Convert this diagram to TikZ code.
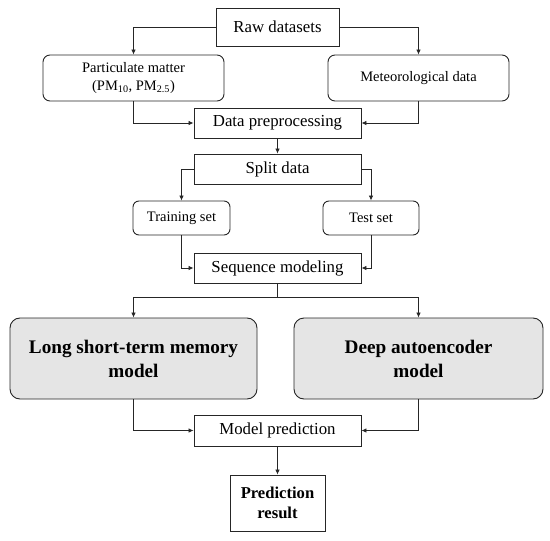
\documentclass[tikz,border=0pt]{standalone}
\usepackage{fontspec}
\setmainfont{Liberation Serif}
\usetikzlibrary{arrows.meta}
\tikzset{
  box/.style={draw=black!85, line width=0.9pt, inner sep=0pt, align=center, font=\fontsize{16.8}{20}\selectfont},
  sbox/.style={box, rounded corners=7pt, font=\fontsize{14.5}{18}\selectfont},
  bigbox/.style={box, rounded corners=10pt, fill=black!10, font=\bfseries\fontsize{19.2}{24}\selectfont},
  arr/.style={draw=black!85, line width=0.8pt, -{Latex[length=5pt,width=4.5pt]}},
  ln/.style={draw=black!85, line width=0.8pt}
}
\begin{document}
\begin{tikzpicture}[x=1pt,y=-1pt]
\useasboundingbox (0,0) rectangle (550,541);
\node[box, minimum width=123pt, minimum height=38pt] (raw) at (277.5,27) {Raw datasets};
\node[sbox, minimum width=181pt, minimum height=46pt] (pm) at (133.5,78) {Particulate matter\\(PM\textsubscript{10}, PM\textsubscript{2.5})};
\node[sbox, minimum width=181pt, minimum height=46pt] (met) at (418.5,78) {Meteorological data};
\node[box, minimum width=167pt, minimum height=30pt] (dp) at (277.5,123) {Data preprocessing};
\node[box, minimum width=167pt, minimum height=30pt] (split) at (277.5,169) {Split data};
\node[sbox, rounded corners=6pt, minimum width=97pt, minimum height=34pt] (train) at (181.5,218) {Training set};
\node[sbox, rounded corners=6pt, minimum width=96pt, minimum height=34pt] (test) at (371,218) {Test set};
\node[box, minimum width=167pt, minimum height=30pt] (seq) at (277.5,268) {Sequence modeling};
\node[bigbox, minimum width=247pt, minimum height=81pt] (lstm) at (133.5,358.5) {Long short-term memory\\model};
\node[bigbox, minimum width=249pt, minimum height=81pt] (dae) at (418.5,358.5) {Deep autoencoder\\model};
\node[box, minimum width=167pt, minimum height=31pt] (mp) at (277.5,430.5) {Model prediction};
\node[box, minimum width=95pt, minimum height=56pt, font=\bfseries\fontsize{16.6}{20}\selectfont] (res) at (277.5,503) {Prediction\\result};
\coordinate (j) at (277.5,297);
\draw[arr] (raw.west) -| (pm.north);
\draw[arr] (raw.east) -| (met.north);
\draw[arr] (pm.south) |- (dp.west);
\draw[arr] (met.south) |- (dp.east);
\draw[arr] (dp.south) -- (split.north);
\draw[arr] (split.west) -| (train.north);
\draw[arr] (split.east) -| (test.north);
\draw[arr] (train.south) |- (seq.west);
\draw[arr] (test.south) |- (seq.east);
\draw[ln] (seq.south) -- (j);
\draw[arr] (j) -| (lstm.north);
\draw[arr] (j) -| (dae.north);
\draw[arr] (lstm.south) |- (mp.west);
\draw[arr] (dae.south) |- (mp.east);
\draw[arr] (mp.south) -- (res.north);
\end{tikzpicture}
\end{document}
